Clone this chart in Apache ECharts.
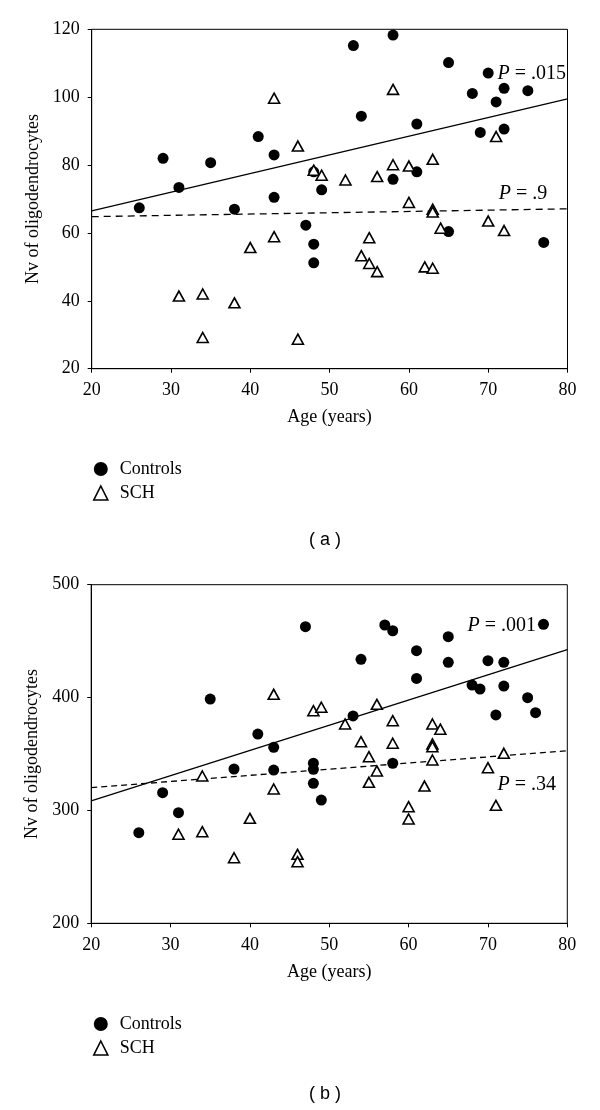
<!DOCTYPE html>
<html><head><meta charset="utf-8">
<script src="https://cdn.jsdelivr.net/npm/echarts@6/dist/echarts.min.js"></script>
<style>html,body{margin:0;padding:0;background:#fff}#c{width:600px;height:1110px}</style>
</head><body><div id="c"></div>
<script>
// Panel (a)
const controlsA = [[26,67.4],[29,82],[31,73.4],[35,80.7],[38,67],[41,88.4],[43,83],[43,70.5],[47,62.3],[48,78],[48,56.7],[48,51.2],[49,72.7],[53,115.2],[54,94.4],[58,118.3],[58,75.8],[61,92.1],[61,78],[65,110.2],[65,60.4],[68,101.1],[69,89.6],[70,107.1],[71,98.6],[72,102.6],[72,90.6],[75,101.9],[77,57.2]];
const schA = [[31,41.4],[34,42],[34,29.2],[38,39.4],[40,55.7],[43,99.7],[43,58.9],[46,85.6],[46,28.7],[48,78.5],[49,77],[52,75.6],[54,53.3],[55,58.6],[55,51],[56,76.6],[56,48.6],[58,102.3],[58,80.1],[60,79.7],[60,69],[62,50],[63,81.7],[63,67],[63,66.2],[63,49.6],[64,61.4],[70,63.5],[71,88.4],[72,60.7]];
const fitControlsA = [[20,66.5],[80,99.5]];
const fitSchA = [[20,64.8],[80,67.1]];
// Panel (b)
const controlsB = [[26,280.3],[29,315.7],[31,298],[35,398.7],[38,336.7],[41,367.7],[43,355.9],[43,335.8],[47,462.8],[48,341.8],[48,336.4],[48,324],[49,309.2],[53,383.7],[54,433.9],[57,464.3],[58,459.2],[58,341.8],[61,441.5],[61,417],[65,453.9],[65,431.2],[68,411.1],[69,407.6],[70,432.7],[71,384.6],[72,431.2],[72,410.2],[75,399.9],[76,386.6],[77,464.9]];
const schB = [[31,278.9],[34,330.5],[34,281.2],[38,258.1],[40,293],[43,402.9],[43,319],[46,261.1],[46,254.6],[48,388.4],[49,391.4],[52,376.6],[54,360.9],[55,347.6],[55,324.9],[56,394],[56,335],[58,379.5],[58,359.5],[60,303.3],[60,292.4],[62,321.6],[63,376.6],[63,358.9],[63,356.5],[63,344.7],[64,372],[70,337.9],[71,304.5],[72,350.6]];
const fitControlsB = [[20,308.4],[80,442.5]];
const fitSchB = [[20,320.2],[80,352.9]];
// Axis ticks
const xAxisRange = [20, 80, 10];
const yAxisRangeA = [20, 120, 20];
const yAxisRangeB = [200, 500, 100];
const pLabels = ['.015', '.9', '.001', '.34'];
const seriesNames = ['Controls', 'SCH'];

const SERIF = '"Liberation Serif", "DejaVu Serif", serif';
const chart = echarts.init(document.getElementById('c'), null, {renderer: 'canvas'});

function xAxis(gi) {
  return {
    gridIndex: gi, type: 'value', min: xAxisRange[0], max: xAxisRange[1], interval: xAxisRange[2],
    name: 'Age (years)', nameLocation: 'middle', nameGap: 40,
    nameTextStyle: {fontFamily: SERIF, fontSize: 18, color: '#000'},
    axisLine: {show: true, lineStyle: {color: '#000', width: 1}},
    axisTick: {show: true, length: 4, lineStyle: {color: '#000'}},
    axisLabel: {fontFamily: SERIF, fontSize: 18, color: '#000', margin: 13},
    splitLine: {show: false}
  };
}
function yAxis(gi, r) {
  return {
    gridIndex: gi, type: 'value', min: r[0], max: r[1], interval: r[2],
    name: 'Nv of oligodendrocytes', nameLocation: 'middle', nameGap: 48,
    nameTextStyle: {fontFamily: SERIF, fontSize: 18, color: '#000'},
    axisLine: {show: true, lineStyle: {color: '#000', width: 1}},
    axisTick: {show: true, length: 4, lineStyle: {color: '#000'}},
    axisLabel: {fontFamily: SERIF, fontSize: 18, color: '#000', margin: 12},
    splitLine: {show: false}
  };
}
const ctrlStyle = {type: 'scatter', symbol: 'circle', symbolSize: 11, itemStyle: {color: '#000', opacity: 1}, z: 3};
const schStyle = {type: 'scatter', symbol: 'triangle', symbolSize: [11, 10], itemStyle: {color: '#fff', borderColor: '#000', borderWidth: 1.6, opacity: 1}, z: 4};
function fit(gi, data, dashed) {
  return {type: 'line', xAxisIndex: gi, yAxisIndex: gi, data: data, symbol: 'none', silent: true,
    lineStyle: {color: '#000', width: 1.3, type: dashed ? dashed : 'solid'}, z: 2};
}
function legend(top) {
  return {
    orient: 'vertical', left: 88, top: top, itemWidth: 14, itemHeight: 14, itemGap: 6,
    data: [
      {name: seriesNames[0], icon: 'circle', itemStyle: {color: '#000', opacity: 1}},
      {name: seriesNames[1], icon: 'triangle', itemStyle: {color: '#fff', borderColor: '#000', borderWidth: 1.6, opacity: 1}}
    ],
    selectedMode: false,
    textStyle: {fontFamily: SERIF, fontSize: 18, color: '#000', padding: [0, 0, 0, 7]}
  };
}
function pText(x, y, s) {
  return {type: 'text', x: x, y: y, z: 10,
    style: {text: '{i|P} = ' + s, fontFamily: SERIF, fontSize: 20, fill: '#000', align: 'center', verticalAlign: 'middle',
      rich: {i: {fontStyle: 'italic', fontFamily: SERIF, fontSize: 20, fill: '#000'}}}};
}

chart.setOption({
  animation: false,
  backgroundColor: '#fff',
  grid: [
    {left: 91.7, top: 29.3, width: 475.8, height: 339.4, show: true, borderColor: '#000', borderWidth: 1, containLabel: false},
    {left: 91.2, top: 584.7, width: 476.1, height: 338.6, show: true, borderColor: '#000', borderWidth: 1, containLabel: false}
  ],
  xAxis: [xAxis(0), xAxis(1)],
  yAxis: [yAxis(0, yAxisRangeA), yAxis(1, yAxisRangeB)],
  legend: [legend(455), legend(1010)],
  series: [
    fit(0, fitControlsA), fit(0, fitSchA, [7, 5]),
    Object.assign({name: seriesNames[0], xAxisIndex: 0, yAxisIndex: 0, data: controlsA}, ctrlStyle),
    Object.assign({name: seriesNames[1], xAxisIndex: 0, yAxisIndex: 0, data: schA}, schStyle),
    fit(1, fitControlsB), fit(1, fitSchB, [6, 4]),
    Object.assign({name: seriesNames[0], xAxisIndex: 1, yAxisIndex: 1, data: controlsB}, ctrlStyle),
    Object.assign({name: seriesNames[1], xAxisIndex: 1, yAxisIndex: 1, data: schB}, schStyle)
  ],
  graphic: [
    pText(531.7, 73.3, pLabels[0]),
    pText(523, 194, pLabels[1]),
    pText(501.7, 626, pLabels[2]),
    pText(526.7, 785, pLabels[3]),
    {type: 'text', x: 325, y: 540, style: {text: '( a )', fontFamily: '"Liberation Sans", Arial, sans-serif', fontSize: 18, fill: '#000', align: 'center', verticalAlign: 'middle'}},
    {type: 'text', x: 325, y: 1094, style: {text: '( b )', fontFamily: '"Liberation Sans", Arial, sans-serif', fontSize: 18, fill: '#000', align: 'center', verticalAlign: 'middle'}}
  ]
});
</script></body></html>
